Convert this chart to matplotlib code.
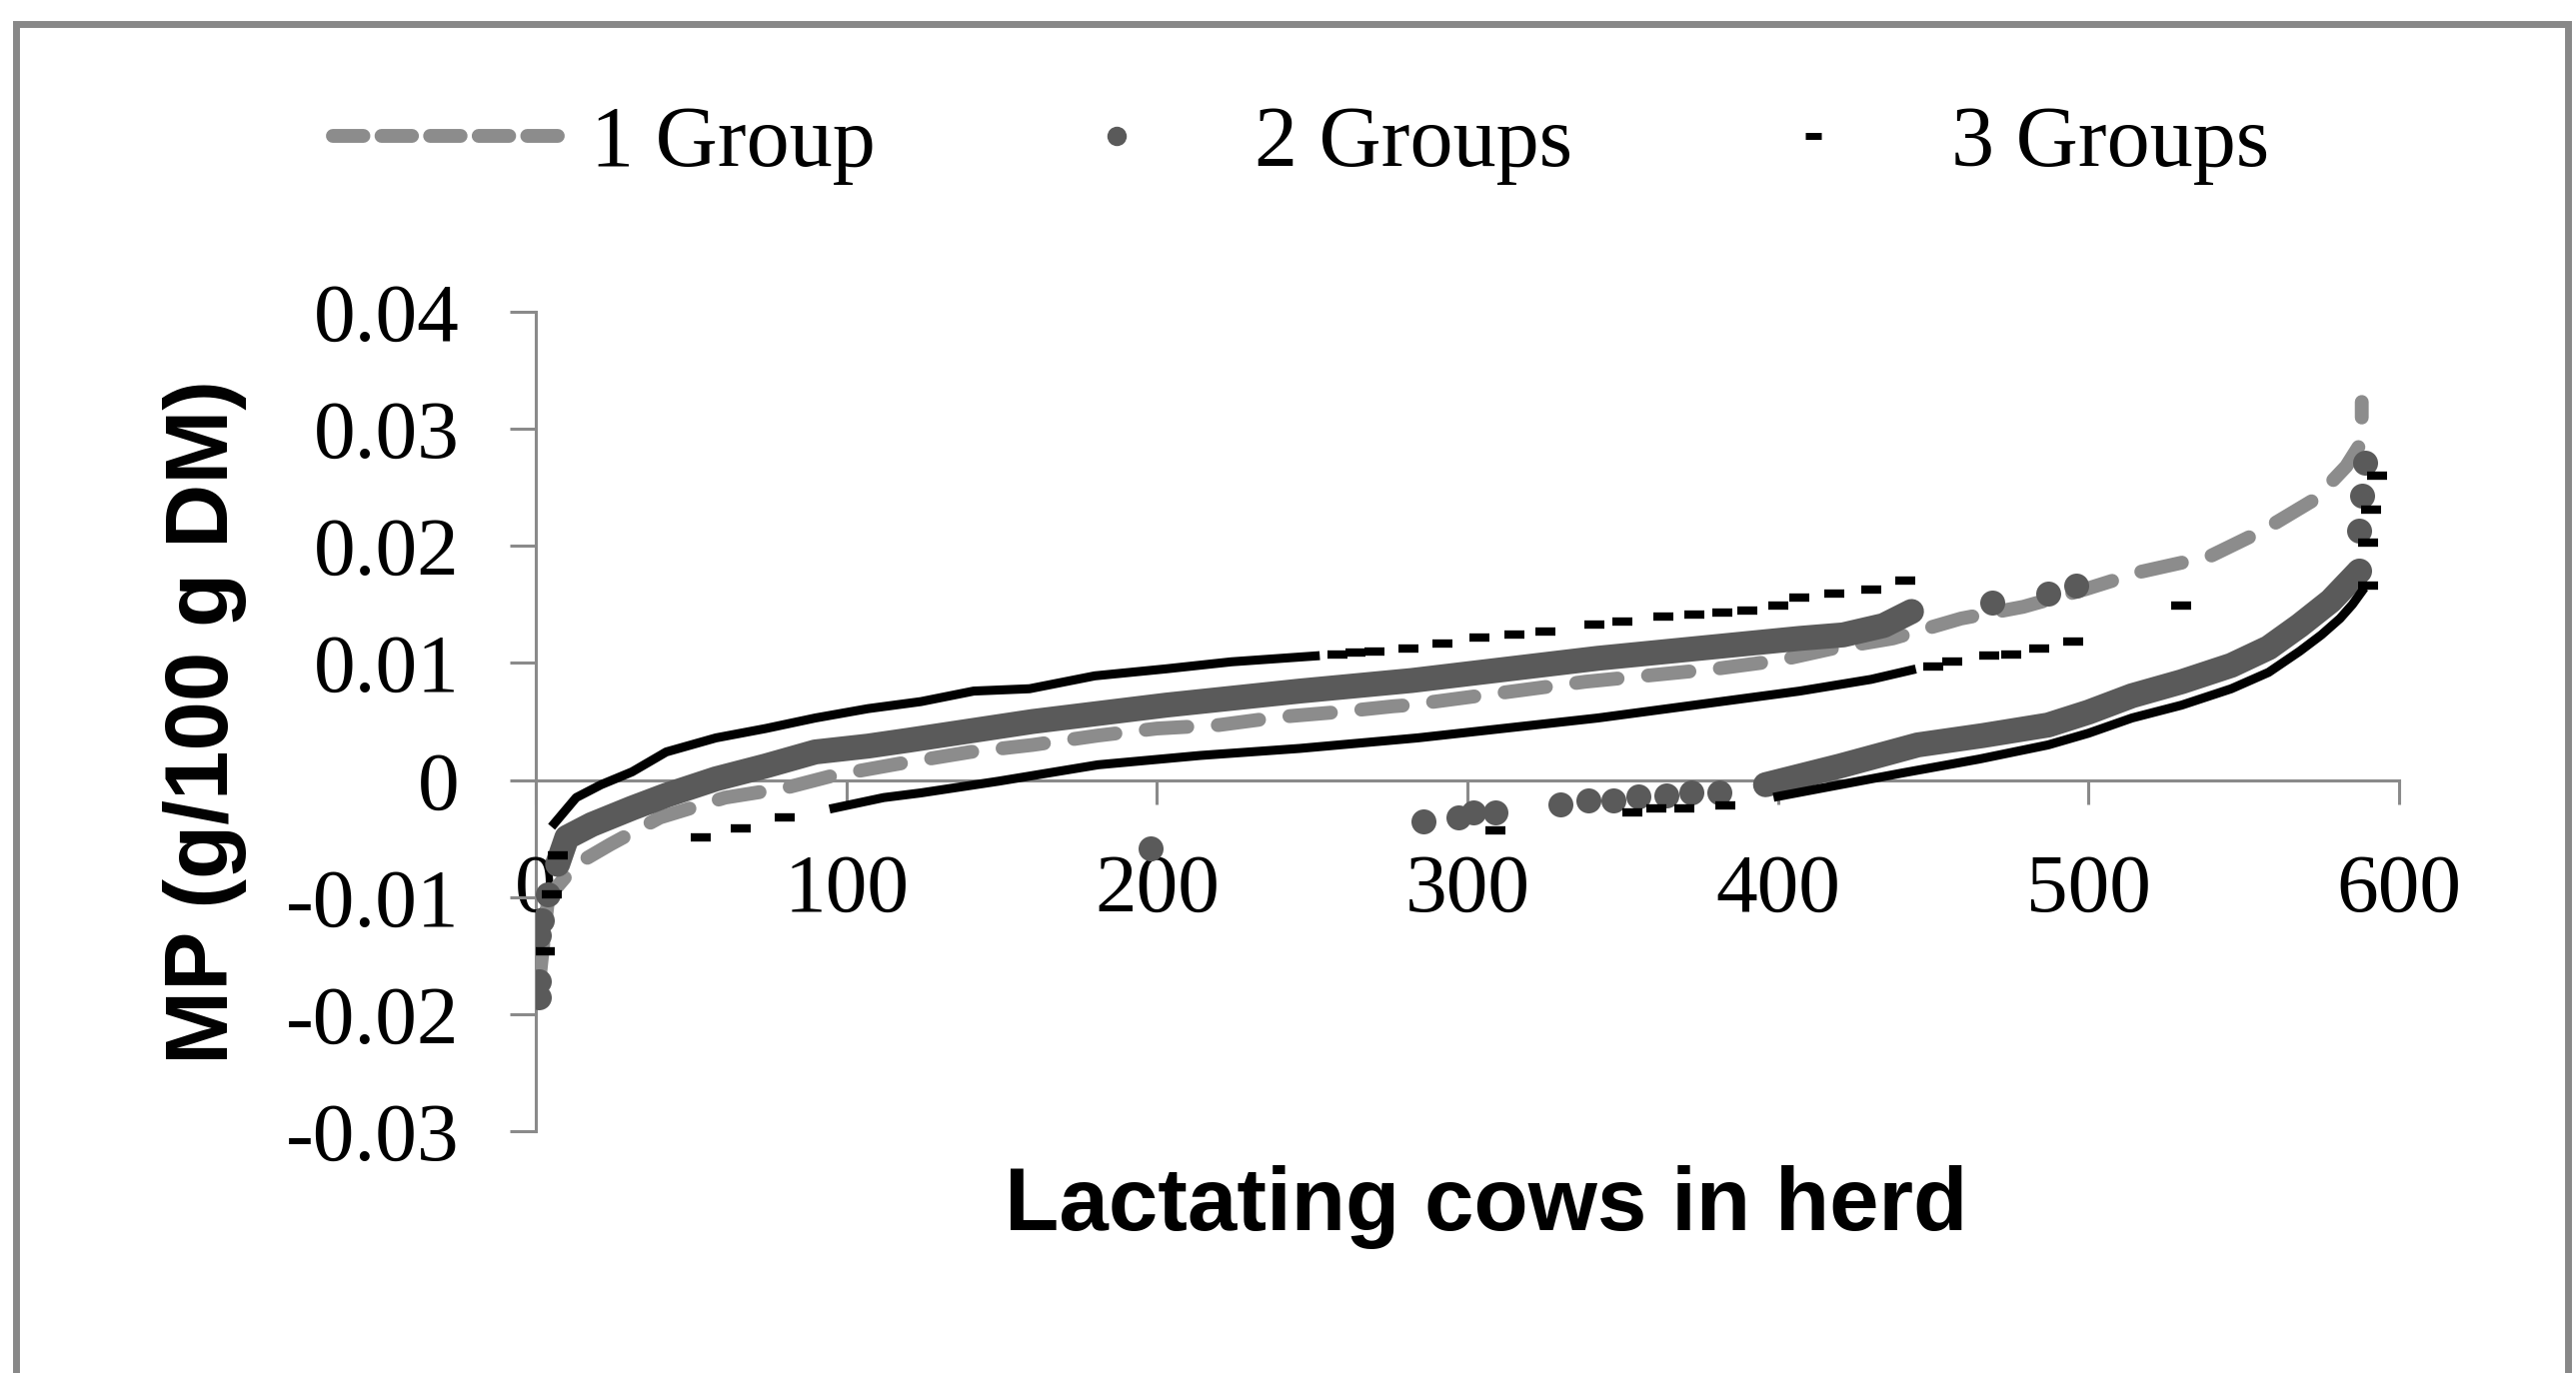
import matplotlib
matplotlib.use("Agg")
import matplotlib.pyplot as plt
from matplotlib.lines import Line2D
from matplotlib.patches import Rectangle

# 1 Group (dashed line)
g1_x = [1, 4, 13, 24, 40, 61, 80, 96, 117, 140, 160, 181, 200, 220, 240, 258, 276,
        281, 338, 380, 400, 417, 437, 459, 479, 499, 517, 539, 556, 573, 583, 588, 588]
g1_y = [-0.0175, -0.0100, -0.0072, -0.0055, -0.0032, -0.0015, -0.0007, 0.0004, 0.0014,
        0.0024, 0.0030, 0.0038, 0.0044, 0.0047, 0.0054, 0.0058, 0.0063, 0.0064, 0.0084,
        0.0095, 0.0102, 0.0112, 0.0121, 0.0138, 0.0148, 0.0163, 0.0178, 0.0191, 0.0213,
        0.0240, 0.0268, 0.0289, 0.0323]

# 2 Groups - dense runs of points
g2_hi_x = [7, 10, 18, 31, 42, 58, 74, 90, 107, 120, 160, 203, 246, 282, 342, 407, 421, 434, 443]
g2_hi_y = [-0.0072, -0.0049, -0.0038, -0.0024, -0.0013, 0.0001, 0.0012, 0.0024, 0.0029,
           0.0034, 0.0050, 0.0064, 0.0076, 0.0085, 0.0104, 0.0121, 0.0124, 0.0132, 0.0144]
g2_lo_x = [396, 420, 445, 466, 487, 500, 514, 530, 546, 558, 568, 578, 587]
g2_lo_y = [-0.0004, 0.0012, 0.0030, 0.0038, 0.0047, 0.0058, 0.0072, 0.0084, 0.0098,
           0.0113, 0.0132, 0.0153, 0.0178]
# 2 Groups - scattered points
g2_pt_x = [1, 1, 1, 2, 4, 198, 286, 297, 302, 309, 330, 339, 347, 355, 364, 372, 381,
           469, 487, 496, 587, 587, 588, 589]
g2_pt_y = [-0.0186, -0.0172, -0.0133, -0.0120, -0.0098, -0.0058, -0.0035, -0.0032,
           -0.0028, -0.0028, -0.0021, -0.0017, -0.0017, -0.0014, -0.0013, -0.0011, -0.0011,
           0.0152, 0.0159, 0.0166, 0.0179, 0.0213, 0.0243, 0.0271]

# 3 Groups - dense runs
g3_hi_x = [6, 13, 21, 31, 42, 58, 74, 90, 107, 124, 141, 159, 180, 203, 224, 251]
g3_hi_y = [-0.0037, -0.0015, -0.0004, 0.0007, 0.0024, 0.0036, 0.0044, 0.0053, 0.0061,
           0.0067, 0.0076, 0.0078, 0.0089, 0.0095, 0.0101, 0.0106]
g3_mid_x = [96, 112, 124, 149, 181, 214, 246, 284, 342, 407, 430, 443]
g3_mid_y = [-0.0024, -0.0015, -0.0011, -0.0001, 0.0013, 0.0021, 0.0027, 0.0036, 0.0053,
            0.0076, 0.0086, 0.0094]
g3_lo_x = [400, 420, 440, 465, 487, 500, 514, 530, 546, 558, 568, 575, 581, 585, 588]
g3_lo_y = [-0.0014, -0.0004, 0.0006, 0.0018, 0.0030, 0.0040, 0.0053, 0.0064, 0.0078,
           0.0092, 0.0110, 0.0124, 0.0138, 0.0150, 0.0161]
# 3 Groups - scattered dashes
g3_pt_x = [3, 5, 7, 53, 66, 80, 258, 264, 270, 281, 292, 304, 315, 325, 341, 350, 363, 373,
           382, 390, 400, 407, 418, 430, 441, 450, 456, 468, 475, 484, 495, 530, 309, 353,
           361, 370, 383, 590, 590, 591, 593]
g3_pt_y = [-0.0146, -0.0098, -0.0064, -0.0049, -0.0041, -0.0032, 0.0107, 0.0109, 0.0110,
           0.0112, 0.0117, 0.0122, 0.0124, 0.0127, 0.0133, 0.0135, 0.0140, 0.0141, 0.0143,
           0.0145, 0.0149, 0.0156, 0.0159, 0.0163, 0.0170, 0.0097, 0.0101, 0.0106, 0.0107,
           0.0112, 0.0118, 0.0149, -0.0043, -0.0028, -0.0024, -0.0024, -0.0022, 0.0166,
           0.0203, 0.0231, 0.0260]

yticks = [-0.03, -0.02, -0.01, 0, 0.01, 0.02, 0.03, 0.04]
ytick_labels = ['-0.03', '-0.02', '-0.01', '0', '0.01', '0.02', '0.03', '0.04']
xticks = [0, 100, 200, 300, 400, 500, 600]

c1, c2, c3 = '#8c8c8c', '#5a5a5a', 'black'
axis_gray = '#8a8a8a'
serif = 'Liberation Serif'
sans = 'Liberation Sans'

fig = plt.figure(figsize=(25.77, 13.74), dpi=100)
ax = fig.add_axes([0.208, 0.1761, 0.7233, 0.5968])

ax.plot(g1_x, g1_y, color=c1, lw=10, dashes=(3.0, 2.2), dash_capstyle='round', zorder=2)

ax.plot(g2_hi_x, g2_hi_y, color=c2, lw=18, solid_capstyle='round', zorder=3)
ax.plot(g2_lo_x, g2_lo_y, color=c2, lw=18, solid_capstyle='round', zorder=3)
ax.plot(g2_pt_x, g2_pt_y, ls='none', marker='o', ms=18, color=c2, mec='none', zorder=3)

for xs, ys in [(g3_hi_x, g3_hi_y), (g3_mid_x, g3_mid_y), (g3_lo_x, g3_lo_y)]:
    ax.plot(xs, ys, color=c3, lw=6.5, zorder=4)
ax.plot(g3_pt_x, g3_pt_y, ls='none', marker='_', ms=15, mew=6, color=c3, zorder=4)

ax.set_xlim(0, 600)
ax.set_ylim(-0.03, 0.04)
ax.set_xticks(xticks)
ax.set_xticklabels([str(v) for v in xticks])
ax.set_yticks(yticks)
ax.set_yticklabels(ytick_labels)

for s in ['top', 'right']:
    ax.spines[s].set_visible(False)
ax.spines['bottom'].set_position(('data', 0))
for s in ['left', 'bottom']:
    ax.spines[s].set_color(axis_gray)
    ax.spines[s].set_linewidth(2.2)
    ax.spines[s].set_zorder(1)

ax.tick_params(axis='y', direction='out', length=19, width=2.2, color=axis_gray, pad=36)
ax.tick_params(axis='x', direction='out', length=17, width=2.2, color=axis_gray, pad=36)
for lab in ax.get_xticklabels() + ax.get_yticklabels():
    lab.set_fontfamily(serif)
    lab.set_fontsize(60)

ax.set_xlabel('Lactating cows in herd', fontsize=64, fontweight='bold', family=sans)
ax.xaxis.set_label_coords(0.510, -0.093)
ax.xaxis.label.set_va('center')
ax.set_ylabel('MP (g/100 g DM)', fontsize=64, fontweight='bold', family=sans)
ax.yaxis.set_label_coords(-0.1776, 0.499)
ax.yaxis.label.set_va('center')

handles = [
    Line2D([], [], color=c1, lw=10, dashes=(2.2, 1.3), dash_capstyle='round'),
    Line2D([], [], ls='none', marker='o', ms=14, color=c2, mec='none'),
    Line2D([], [], ls='none', marker='_', ms=11, mew=5, color=c3),
]
fig.legend(handles, ['1 Group', '2 Groups', '3 Groups'], loc='center',
           bbox_to_anchor=(0.505, 0.8945), ncol=3, frameon=False,
           prop={'family': serif, 'size': 62}, handlelength=2.8,
           handletextpad=0.2, columnspacing=1.4)

# outer gray frame, open at the bottom edge
fig.patches.append(Rectangle((0.0062, -0.02), 0.9907, 1.0023, transform=fig.transFigure,
                             fill=False, ec='#888888', lw=5))

fig.savefig('out.png', dpi=100)
